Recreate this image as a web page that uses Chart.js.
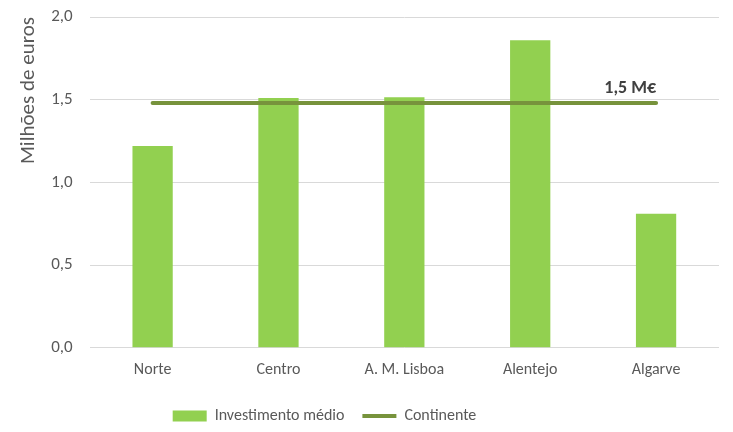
<!DOCTYPE html>
<html>
<head>
<meta charset="utf-8">
<script src="https://cdn.jsdelivr.net/npm/chart.js@4"></script>
<style>
  html, body { margin: 0; padding: 0; background: #fff; }
  #wrap { width: 733px; height: 432px; }
</style>
</head>
<body>
<div id="wrap"><canvas id="grafico"></canvas></div>
<script>
const regioes = ['Norte', 'Centro', 'A. M. Lisboa', 'Alentejo', 'Algarve']
const investimentoMedio = [1.22, 1.51, 1.515, 1.86, 0.81]
const continente = [1.48, 1.48, 1.48, 1.48, 1.48]
const rotuloContinente = '1,5 M€'
const ticksY = [0, 0.5, 1.0, 1.5, 2.0]

const fonte = 'Carlito, Lato, sans-serif'

// rotulo "1,5 M€" junto ao fim da linha
const rotuloLinha = {
    id: 'rotuloLinha',
    afterLayout(chart) {
        // legenda do original fica deslocada para a esquerda
        chart.legend.left -= 43
        chart.legend.right -= 43
        chart.legend.top += 5
        chart.legend.bottom += 5
    },
    afterDatasetsDraw(chart) {
        const meta = chart.getDatasetMeta(1)
        const ultimo = meta.data[meta.data.length - 1]
        const ctx = chart.ctx
        ctx.save()
        ctx.font = 'bold 18px ' + fonte
        ctx.fillStyle = '#404040'
        ctx.textAlign = 'right'
        ctx.textBaseline = 'alphabetic'
        ctx.fillText(rotuloContinente, ultimo.x, ultimo.y - 10)
        ctx.restore()
    }
}

let grafico = new Chart(
    document.getElementById('grafico'),
    {
        data: {
            labels: regioes,
            datasets: [
                {
                    type: 'bar',
                    label: 'Investimento médio',
                    data: investimentoMedio,
                    backgroundColor: '#92D050',
                    categoryPercentage: 1,
                    barPercentage: 0.32,
                    order: 2
                },
                {
                    type: 'line',
                    label: 'Continente',
                    data: continente,
                    borderColor: '#77933C',
                    borderWidth: 4,
                    borderCapStyle: 'round',
                    pointRadius: 0,
                    order: 1
                }
            ]
        },
        options: {
            responsive: true,
            maintainAspectRatio: false,
            animation: false,
            layout: {
                padding: { left: 16, right: 14, top: 17, bottom: 3 }
            },
            scales: {
                x: {
                    grid: { display: false },
                    border: { display: false },
                    ticks: {
                        color: '#595959',
                        font: { family: fonte, size: 16 },
                        padding: 5
                    }
                },
                y: {
                    min: 0,
                    max: 2,
                    afterBuildTicks: axis => {
                        axis.ticks = ticksY.map(v => ({ value: v }))
                    },
                    afterFit: axis => {
                        axis.paddingTop = 0
                        axis.paddingBottom = 0
                    },
                    grid: { color: '#D9D9D9', drawTicks: false, lineWidth: 1 },
                    border: { display: false },
                    ticks: {
                        color: '#595959',
                        font: { family: fonte, size: 17 },
                        padding: 17,
                        callback: v => v.toFixed(1).replace('.', ',')
                    },
                    title: {
                        display: true,
                        text: 'Milhões de euros',
                        align: 'end',
                        color: '#595959',
                        font: { family: fonte, size: 21 },
                        padding: { top: 0, bottom: -7 }
                    }
                }
            },
            plugins: {
                legend: {
                    position: 'bottom',
                    labels: {
                        color: '#595959',
                        font: { family: fonte, size: 16 },
                        usePointStyle: true,
                        pointStyleWidth: 34,
                        boxWidth: 34,
                        boxHeight: 11,
                        padding: 18,
                        generateLabels: chart => [
                            {
                                text: 'Investimento médio',
                                fillStyle: '#92D050',
                                strokeStyle: '#92D050',
                                lineWidth: 0,
                                pointStyle: 'rect',
                                fontColor: '#595959',
                                datasetIndex: 0
                            },
                            {
                                text: 'Continente',
                                fillStyle: '#77933C',
                                strokeStyle: '#77933C',
                                lineWidth: 4,
                                pointStyle: 'line',
                                fontColor: '#595959',
                                datasetIndex: 1
                            }
                        ]
                    }
                },
                tooltip: { enabled: false }
            }
        },
        plugins: [rotuloLinha]
    }
)
</script>
</body>
</html>
